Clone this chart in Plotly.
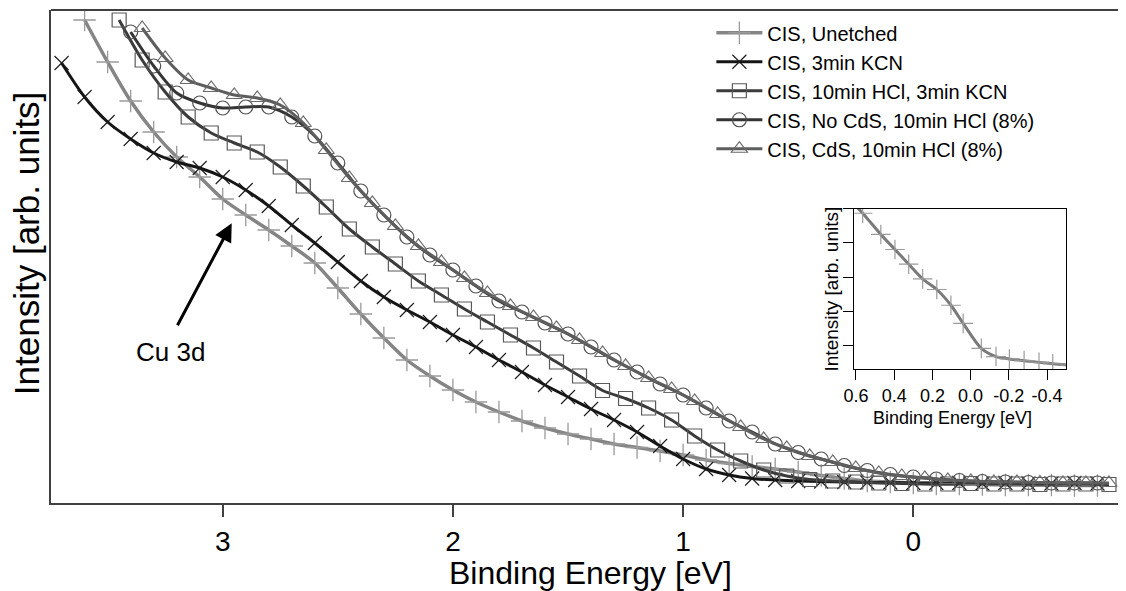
import plotly.graph_objects as go

# ---------------- data ----------------
E_unetched = [3.6, 3.5, 3.4, 3.3, 3.2, 3.1, 3.0, 2.9, 2.8, 2.7, 2.6, 2.5, 2.4, 2.3, 2.2, 2.1,
              2.0, 1.9, 1.8, 1.7, 1.6, 1.5, 1.4, 1.3, 1.2, 1.1, 1.0, 0.9, 0.8, 0.7, 0.6, 0.5,
              0.4, 0.3, 0.2, 0.1, 0.0, -0.1, -0.2, -0.3, -0.4, -0.5, -0.6, -0.7, -0.8]
I_unetched = [483, 441, 402, 371, 346, 326, 304, 288, 273, 257, 240, 215, 189, 165, 143, 127,
              113, 101, 91, 82, 75, 69, 64, 59, 55.5, 52, 48, 43, 39.5, 36.5, 34, 31,
              27.5, 24.5, 22, 21, 20, 19, 19, 18.5, 18, 18, 18, 17.5, 17.5]

E_kcn = [3.7, 3.6, 3.5, 3.4, 3.3, 3.2, 3.1, 3.0, 2.9, 2.8, 2.7, 2.6, 2.5, 2.4, 2.3, 2.2, 2.1,
         2.0, 1.9, 1.8, 1.7, 1.6, 1.5, 1.4, 1.3, 1.2, 1.1, 1.0, 0.9, 0.8, 0.7, 0.6, 0.5,
         0.4, 0.3, 0.2, 0.1, 0.0, -0.1, -0.2, -0.3, -0.4, -0.5, -0.6, -0.7, -0.8]
I_kcn = [440, 406, 381, 364, 350, 341, 335, 326, 313, 297, 278, 260, 241, 222, 206, 193, 181,
         168, 156, 143, 131, 118, 106, 94, 83, 71, 57, 44, 34, 28, 24.5, 23, 22,
         21.5, 21, 20.5, 20.5, 20, 20, 20, 19.5, 20, 19.5, 19.5, 20, 19.5]

E_hcl = [3.45, 3.35, 3.25, 3.15, 3.05, 2.95, 2.85, 2.75, 2.65, 2.55, 2.45, 2.35, 2.25, 2.15,
         2.05, 1.95, 1.85, 1.75, 1.65, 1.55, 1.45, 1.35, 1.25, 1.15, 1.05, 0.95, 0.85, 0.75,
         0.65, 0.55, 0.45, 0.35, 0.25, 0.15, 0.05, -0.05, -0.15, -0.25, -0.35, -0.45, -0.55,
         -0.65, -0.75, -0.85]
I_hcl = [483, 443, 411, 386, 370, 360, 351, 336, 317, 296, 274, 256, 239, 222,
         208, 194, 181, 168, 155, 141, 127, 112.5, 104.5, 95, 83, 67, 53, 42,
         33, 27, 23.5, 22, 21, 20, 19.5, 19, 19, 19.5, 19, 19, 18.5,
         19, 19, 18.5]

E_nocds = [3.4, 3.3, 3.2, 3.1, 3.0, 2.9, 2.8, 2.7, 2.6, 2.5, 2.4, 2.3, 2.2, 2.1,
           2.0, 1.9, 1.8, 1.7, 1.6, 1.5, 1.4, 1.3, 1.2, 1.1, 1.0, 0.9, 0.8, 0.7, 0.6, 0.5,
           0.4, 0.3, 0.2, 0.1, 0.0, -0.1, -0.2, -0.3, -0.4, -0.5, -0.6, -0.7, -0.8]
I_nocds = [471, 437, 410, 400, 395, 396, 396, 386, 367, 340, 312, 288, 266, 248,
           233, 217, 202, 191, 180, 169, 156, 143, 131, 119, 108, 95, 82, 71, 59, 50.5,
           44, 37.5, 32.5, 28.5, 26, 24, 22.5, 21.5, 21, 20.5, 20, 20, 20]

E_cds = [3.35, 3.25, 3.15, 3.05, 2.95, 2.85, 2.75, 2.65, 2.55, 2.45, 2.35, 2.25, 2.15,
         2.05, 1.95, 1.85, 1.75, 1.65, 1.55, 1.45, 1.35, 1.25, 1.15, 1.05, 0.95, 0.85, 0.75,
         0.65, 0.55, 0.45, 0.35, 0.25, 0.15, 0.05, -0.05, -0.15, -0.25, -0.35, -0.45, -0.55,
         -0.65, -0.75, -0.85]
I_cds = [475, 445, 423, 415, 408, 405, 398, 380, 353, 325, 300, 277, 257,
         241, 225, 210, 197, 186, 175, 163, 150, 137, 125, 114, 102, 89, 76,
         64, 55, 47, 41, 35, 30, 27, 25, 23, 22, 21, 21, 20.5,
         20, 20, 20]

# inset: unetched near the Fermi edge
E_inset = [0.64, 0.565, 0.47, 0.396, 0.324, 0.251, 0.177, 0.103, 0.039, -0.056, -0.133,
           -0.203, -0.28, -0.358, -0.43, -0.52]
I_inset = [5.3, 4.87, 4.25, 3.81, 3.38, 2.95, 2.64, 2.18, 1.65, 0.92, 0.68,
           0.61, 0.56, 0.51, 0.47, 0.43]

series_names = ["CIS, Unetched", "CIS, 3min KCN", "CIS, 10min HCl, 3min KCN",
                "CIS, No CdS, 10min HCl (8%)", "CIS, CdS, 10min HCl (8%)"]
main_ticks = [3, 2, 1, 0]
main_ticktext = ["3", "2", "1", "0"]
inset_ticks = [0.6, 0.4, 0.2, 0.0, -0.2, -0.4]
inset_ticktext = ["0.6", "0.4", "0.2", "0.0", "-0.2", "-0.4"]
inset_yticks = [1, 2, 3, 4, 5]

FONT = "Liberation Sans, Arial, sans-serif"

fig = go.Figure()

styles = [
    dict(line=dict(color="#858585", width=3.5),
         marker=dict(symbol="cross-thin", size=16, color="#9a9a9a", line=dict(color="#9a9a9a", width=1.3))),
    dict(line=dict(color="#151515", width=3),
         marker=dict(symbol="x-thin", size=14, color="#1a1a1a", line=dict(color="#1a1a1a", width=1.1))),
    dict(line=dict(color="#3b3b3b", width=3),
         marker=dict(symbol="square-open", size=14, color="#5a5a5a", line=dict(width=1.2))),
    dict(line=dict(color="#353535", width=3),
         marker=dict(symbol="circle-open", size=14, color="#505050", line=dict(width=1.2))),
    dict(line=dict(color="#5e5e5e", width=3),
         marker=dict(symbol="triangle-up-open", size=14, color="#6a6a6a", line=dict(width=1.2))),
]
data = [(E_unetched, I_unetched), (E_kcn, I_kcn), (E_hcl, I_hcl), (E_nocds, I_nocds), (E_cds, I_cds)]

for (ex, iy), name, st in zip(data, series_names, styles):
    fig.add_trace(go.Scatter(x=ex, y=iy, name=name, mode="lines+markers",
                             line=dict(shape="spline", smoothing=0.8, **st["line"]),
                             marker=st["marker"], xaxis="x", yaxis="y"))

fig.add_trace(go.Scatter(x=E_inset, y=I_inset, mode="lines+markers", showlegend=False,
                         line=dict(color="#7a7a7a", width=3, shape="spline", smoothing=0.8),
                         marker=dict(symbol="cross-thin", size=14, color="#9a9a9a",
                                     line=dict(color="#9a9a9a", width=1.2)),
                         xaxis="x2", yaxis="y2"))

fig.update_layout(
    width=1118, height=583,
    margin=dict(l=43, r=0, t=2, b=88),
    paper_bgcolor="white", plot_bgcolor="white",
    font=dict(family=FONT, color="black"),
    showlegend=True,
    legend=dict(x=0.6143, y=0.9934, xanchor="left", yanchor="top",
                bgcolor="rgba(0,0,0,0)", font=dict(size=20, family=FONT),
                itemwidth=46, tracegroupgap=0),
    xaxis=dict(domain=[0, 1], range=[3.746, -0.924], tickvals=main_ticks, ticktext=main_ticktext,
               ticks="outside", ticklen=12, tickwidth=1.5, tickcolor="#404040",
               showline=True, linecolor="#404040", linewidth=2, mirror=False,
               showgrid=False, zeroline=False, tickfont=dict(size=28), anchor="y"),
    yaxis=dict(domain=[0, 1], range=[0, 493], showticklabels=False, ticks="",
               showline=True, linecolor="#404040", linewidth=2, mirror=False,
               showgrid=False, zeroline=False, anchor="x"),
    xaxis2=dict(domain=[0.7474, 0.9443], anchor="y2", range=[0.608, -0.5],
                tickvals=inset_ticks, ticktext=inset_ticktext,
                ticks="outside", ticklen=10, tickwidth=1, tickcolor="black",
                showline=True, linecolor="black", linewidth=1, mirror=True,
                showgrid=False, zeroline=False, tickfont=dict(size=18)),
    yaxis2=dict(domain=[0.2718, 0.5968], anchor="x2", range=[0.316, 5.0],
                tickvals=inset_yticks, showticklabels=False,
                ticks="outside", ticklen=10, tickwidth=1, tickcolor="black",
                showline=True, linecolor="black", linewidth=1, mirror=True,
                showgrid=False, zeroline=False),
    shapes=[dict(type="line", xref="paper", yref="paper", x0=0, x1=1, y0=1, y1=1,
                 line=dict(color="#404040", width=2))],
    annotations=[
        dict(text="Binding Energy [eV]", xref="paper", yref="paper", x=0.5014, y=-0.143,
             xanchor="center", yanchor="middle", showarrow=False, font=dict(size=32)),
        dict(text="Intensity [arb. units]", xref="paper", yref="paper", x=-0.0233, y=0.527,
             xanchor="center", yanchor="middle", textangle=-90, showarrow=False, font=dict(size=35)),
        dict(text="Binding Energy [eV]", xref="paper", yref="paper", x=0.839, y=0.1724,
             xanchor="center", yanchor="middle", showarrow=False, font=dict(size=18)),
        dict(text="Intensity [arb. units]", xref="paper", yref="paper", x=0.726, y=0.434,
             xanchor="center", yanchor="middle", textangle=-90, showarrow=False, font=dict(size=19)),
        dict(text="", x=2.961, y=279.7, xref="x", yref="y", ax=3.2, ay=176.3, axref="x", ayref="y",
             showarrow=True, arrowhead=2, arrowsize=1.2, arrowwidth=3, arrowcolor="black"),
        dict(text="Cu 3d", x=3.228, y=151, xref="x", yref="y", showarrow=False,
             xanchor="center", yanchor="middle", font=dict(size=26)),
    ],
)

fig.write_html("out.html")
